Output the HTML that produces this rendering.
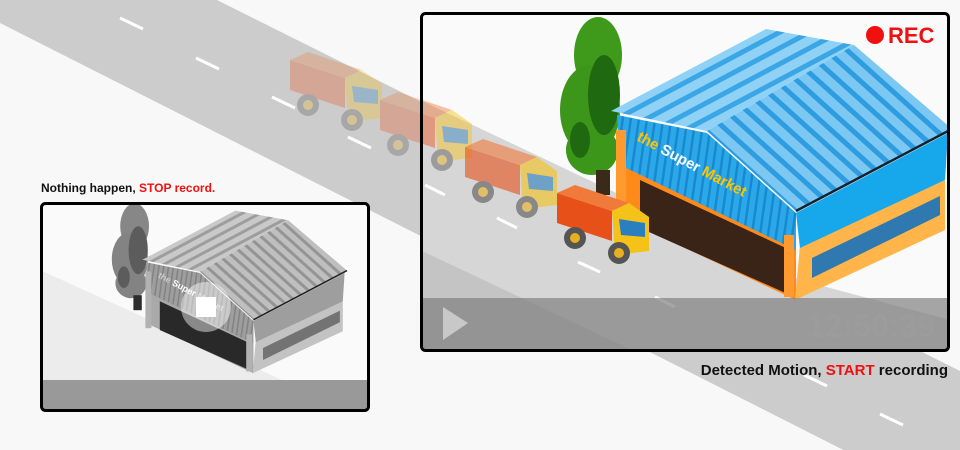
<!DOCTYPE html>
<html><head><meta charset="utf-8"><style>
html,body{margin:0;padding:0;background:#f8f8f8;width:960px;height:450px;overflow:hidden;}
svg{display:block;font-family:"Liberation Sans",sans-serif;}
</style></head><body>
<svg width="960" height="450" viewBox="0 0 960 450" xmlns="http://www.w3.org/2000/svg">
<defs>
<clipPath id="cr"><rect x="421" y="13" width="528" height="338" rx="4"/></clipPath>
<clipPath id="cl"><rect x="41" y="203" width="328" height="208" rx="4"/></clipPath>
<filter id="gray"><feColorMatrix type="saturate" values="0"/></filter>
<pattern id="pl" width="14" height="14" patternUnits="userSpaceOnUse" patternTransform="rotate(-28)">
  <rect width="14" height="14" fill="#8fd2f6"/><rect width="14" height="5" fill="#3aa6e6"/>
</pattern>
<pattern id="pr" width="14" height="14" patternUnits="userSpaceOnUse" patternTransform="rotate(42)">
  <rect width="14" height="14" fill="#7cc8f2"/><rect width="14" height="5" fill="#2e9ce0"/>
</pattern>
<pattern id="pf" width="8" height="8" patternUnits="userSpaceOnUse" patternTransform="rotate(8)">
  <rect width="8" height="8" fill="#2aa8ea"/><rect width="2.5" height="8" fill="#1a88cc"/>
</pattern>
<g id="truck">
  <polygon points="0,0 55,18 55,48 0,30" fill="#e8501a"/>
  <polygon points="0,0 18,-8 72,10 55,18" fill="#f07a3a"/>
  <polygon points="55,18 72,10 92,24 92,58 58,62" fill="#f5c21a"/>
  <polygon points="62,26 88,30 88,44 64,42" fill="#2a7fc0"/>
  <circle cx="18" cy="45" r="11" fill="#555"/><circle cx="18" cy="45" r="5" fill="#e8b020"/>
  <circle cx="62" cy="60" r="11" fill="#555"/><circle cx="62" cy="60" r="5" fill="#e8b020"/>
</g>
<g id="scene">
  <ellipse cx="598" cy="55" rx="24" ry="38" fill="#3f9a1c"/>
  <ellipse cx="590" cy="110" rx="30" ry="45" fill="#3c961a"/>
  <ellipse cx="592" cy="150" rx="26" ry="25" fill="#3c961a"/>
  <ellipse cx="604" cy="95" rx="16" ry="40" fill="#1f6a10"/>
  <ellipse cx="580" cy="140" rx="10" ry="18" fill="#1f6a10"/>
  <rect x="596" y="170" width="14" height="25" fill="#3a2a1a"/>
  <polygon points="625,160 796,245 796,300 625,220" fill="#ff8a1a"/>
  <polygon points="640,180 790,250 790,295 640,228" fill="#3a2418"/>
  <polygon points="800,245 945,180 945,230 795,300" fill="#ffb54a"/>
  <polygon points="812,258 940,196 940,215 812,278" fill="#2f78b0"/>
  <polygon points="617,115 707,133 796,213 796,250 620,165" fill="url(#pf)"/>
  <polygon points="796,213 948,133 945,180 800,248" fill="#17a8ec"/>
  <polygon points="611,111 766,29 854,45 707,131" fill="url(#pl)"/>
  <polygon points="707,131 854,45 952,129 796,211" fill="url(#pr)"/>
  <polyline points="796,211 952,129" stroke="#123" stroke-width="2.5" fill="none"/>
  <rect x="616" y="130" width="10" height="95" fill="#ff9a30"/>
  <rect x="784" y="235" width="10" height="62" fill="#ff9a30"/>
  <text x="636" y="140" fill="#ffc400" font-size="15" font-weight="bold" transform="rotate(28 636 140)">the <tspan fill="#fff">Super</tspan> Market</text>
</g>
</defs>

<polygon points="217,0 960,371 960,509 0,23 0,0" fill="#cccccc"/>
<g stroke="#fff" stroke-width="3">
  <line x1="120" y1="18" x2="143" y2="29"/><line x1="196" y1="58" x2="219" y2="69"/>
  <line x1="272" y1="97" x2="295" y2="108"/><line x1="348" y1="137" x2="371" y2="148"/>
  <line x1="804" y1="375" x2="827" y2="386"/>
  <line x1="880" y1="414" x2="903" y2="425"/>
</g>
<g opacity="0.3"><use href="#truck" transform="translate(290,60)"/><use href="#truck" transform="translate(380,100)"/></g>

<g clip-path="url(#cr)">
  <rect x="420" y="12" width="530" height="340" fill="#fafafa"/>
  <polygon points="420,100 800,280 950,320 950,352 420,352" fill="#d6d6d6"/>
  <polygon points="420,250 780,420 420,420" fill="#c4c4c4"/>
  <g stroke="#fff" stroke-width="3">
    <line x1="425" y1="185" x2="445" y2="195"/><line x1="497" y1="218" x2="517" y2="228"/>
    <line x1="578" y1="262" x2="600" y2="272"/><line x1="655" y1="297" x2="675" y2="307"/>
  </g>
  <g opacity="0.45"><use href="#truck" transform="translate(380,100)"/></g>
  <use href="#scene"/>
  <g opacity="0.6"><use href="#truck" transform="translate(465,147)"/></g>
  <use href="#truck" transform="translate(557,193)"/>
  <rect x="420" y="298" width="530" height="54" fill="#808080" opacity="0.7"/>
  <polygon points="443,307 443,340 468,323" fill="#c8c8c8"/>
  <text x="935" y="337" text-anchor="end" fill="#9c9c9c" font-size="32" font-weight="bold">12:50:39</text>
</g>
<rect x="421.5" y="13.5" width="527" height="337" rx="4" fill="none" stroke="#000" stroke-width="3"/>
<circle cx="875" cy="35" r="9" fill="#f01010"/>
<text x="888" y="43" fill="#f01010" font-size="22" font-weight="bold">REC</text>

<g clip-path="url(#cl)">
  <rect x="40" y="202" width="330" height="210" fill="#fafafa"/>
  <polygon points="40,270 370,420 40,420" fill="#ececec"/>
  <g transform="translate(-224.2,193.2) scale(0.6)" filter="url(#gray)"><use href="#scene"/></g>
  <circle cx="206" cy="307" r="25" fill="#fff" opacity="0.45"/>
  <rect x="196" y="297" width="20" height="20" fill="#fff"/>
  <rect x="40" y="380" width="330" height="32" fill="#999"/>
</g>
<rect x="41.5" y="203.5" width="327" height="207" rx="4" fill="none" stroke="#000" stroke-width="3"/>

<text x="41" y="192" font-size="12" font-weight="bold" fill="#111">Nothing happen, <tspan fill="#f01010">STOP record.</tspan></text>
<text x="948" y="375" text-anchor="end" font-size="15" font-weight="bold" fill="#111">Detected Motion, <tspan fill="#f01010">START</tspan> recording</text>
</svg>
</body></html>
